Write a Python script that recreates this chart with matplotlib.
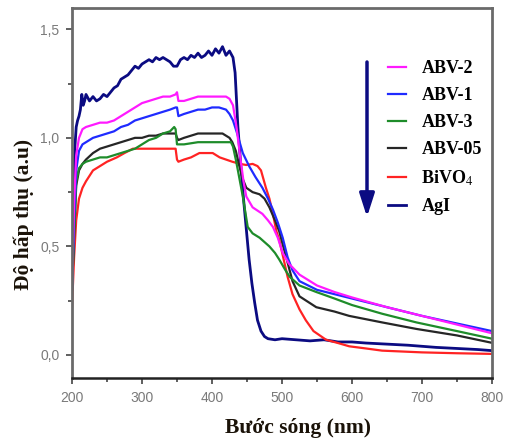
import matplotlib
matplotlib.use("Agg")
import matplotlib.pyplot as plt
from matplotlib.ticker import MultipleLocator, FuncFormatter

# ---------------- data ----------------
agi_x = [200, 202, 204, 206, 208, 210, 212, 214, 216, 218, 220, 225, 230, 235, 240, 245, 250, 255, 260, 265,
         270, 275, 280, 285, 290, 295, 300, 305, 310, 315, 320, 325, 330, 335, 340, 345, 350, 355, 360, 365,
         370, 375, 380, 385, 390, 395, 400, 405, 410, 415, 420, 425, 430, 433, 437, 441, 445, 449, 453, 457,
         461, 465, 470, 475, 480, 490, 500, 520, 540, 560, 580, 600, 620, 650, 680, 700, 720, 750, 780, 800]
agi_y = [0.33, 0.75, 0.95, 1.05, 1.08, 1.10, 1.13, 1.20, 1.15, 1.17, 1.20, 1.17, 1.19, 1.17, 1.18, 1.20, 1.19, 1.21, 1.23, 1.24,
         1.27, 1.28, 1.29, 1.31, 1.33, 1.32, 1.34, 1.35, 1.36, 1.35, 1.37, 1.36, 1.37, 1.36, 1.35, 1.33, 1.33, 1.36, 1.37, 1.36,
         1.38, 1.37, 1.39, 1.37, 1.38, 1.40, 1.38, 1.41, 1.39, 1.42, 1.38, 1.40, 1.37, 1.30, 1.05, 0.88, 0.72, 0.58, 0.44, 0.33,
         0.24, 0.16, 0.11, 0.085, 0.075, 0.07, 0.075, 0.07, 0.065, 0.07, 0.06, 0.06, 0.055, 0.05, 0.045, 0.04, 0.035, 0.03, 0.025, 0.02]

abv2_x = [200, 203, 206, 210, 215, 220, 230, 240, 250, 260, 270, 280, 290, 300, 310, 320, 330, 340, 348, 350,
          352, 360, 370, 380, 390, 400, 410, 420, 425, 430, 435, 440, 445, 449, 458, 465, 472, 480, 487, 494,
          501, 510, 525, 550, 575, 600, 650, 700, 750, 800]
abv2_y = [0.30, 0.70, 0.92, 1.00, 1.04, 1.05, 1.06, 1.07, 1.07, 1.08, 1.10, 1.12, 1.14, 1.16, 1.17, 1.18, 1.19, 1.19, 1.20, 1.21,
          1.17, 1.17, 1.18, 1.19, 1.19, 1.19, 1.19, 1.19, 1.18, 1.15, 1.05, 0.92, 0.80, 0.73, 0.68, 0.665, 0.65, 0.62, 0.59, 0.54,
          0.47, 0.42, 0.37, 0.32, 0.29, 0.265, 0.22, 0.18, 0.14, 0.10]

abv1_x = [200, 203, 206, 210, 215, 220, 230, 240, 250, 260, 270, 280, 290, 300, 310, 320, 330, 340, 348, 350,
          352, 360, 370, 380, 390, 400, 410, 420, 425, 430, 435, 444, 453, 462, 472, 480, 487, 494, 501, 508,
          515, 525, 550, 575, 600, 650, 700, 750, 800]
abv1_y = [0.30, 0.62, 0.85, 0.94, 0.97, 0.98, 1.00, 1.01, 1.02, 1.03, 1.05, 1.06, 1.08, 1.09, 1.10, 1.11, 1.12, 1.13, 1.14, 1.14,
          1.10, 1.11, 1.12, 1.13, 1.13, 1.14, 1.14, 1.13, 1.11, 1.08, 1.03, 0.93, 0.87, 0.82, 0.77, 0.72, 0.67, 0.61, 0.54, 0.45,
          0.39, 0.34, 0.30, 0.28, 0.26, 0.22, 0.18, 0.145, 0.11]

abv3_x = [200, 203, 206, 210, 215, 220, 230, 240, 250, 260, 270, 280, 290, 300, 310, 320, 330, 340, 346, 348,
          350, 360, 370, 380, 390, 400, 410, 420, 427, 430, 434, 437, 444, 451, 458, 468, 475, 482, 490, 496,
          505, 511, 525, 549, 575, 600, 643, 692, 750, 800]
abv3_y = [0.30, 0.55, 0.80, 0.86, 0.88, 0.89, 0.90, 0.91, 0.91, 0.92, 0.93, 0.94, 0.95, 0.97, 0.99, 1.00, 1.02, 1.03, 1.05, 1.04,
          0.97, 0.97, 0.975, 0.98, 0.98, 0.98, 0.98, 0.98, 0.98, 0.96, 0.90, 0.85, 0.73, 0.59, 0.56, 0.54, 0.52, 0.50, 0.47, 0.44,
          0.39, 0.36, 0.32, 0.29, 0.26, 0.23, 0.19, 0.15, 0.11, 0.075]

abv05_x = [200, 203, 206, 210, 215, 220, 230, 240, 250, 260, 270, 280, 290, 300, 310, 320, 330, 340, 348, 350,
           352, 360, 370, 380, 390, 400, 410, 415, 420, 425, 429, 434, 439, 444, 449, 458, 468, 475, 482, 490,
           496, 506, 515, 525, 549, 575, 596, 643, 692, 750, 800]
abv05_y = [0.30, 0.55, 0.78, 0.85, 0.88, 0.90, 0.93, 0.95, 0.96, 0.97, 0.98, 0.99, 1.00, 1.00, 1.01, 1.01, 1.02, 1.02, 1.02, 1.00,
           0.99, 1.00, 1.01, 1.02, 1.02, 1.02, 1.02, 1.02, 1.01, 1.00, 0.98, 0.94, 0.87, 0.81, 0.77, 0.75, 0.74, 0.72, 0.68, 0.62,
           0.57, 0.45, 0.34, 0.27, 0.22, 0.20, 0.18, 0.15, 0.12, 0.09, 0.056]

bivo4_x = [200, 203, 206, 210, 215, 220, 230, 240, 250, 264, 275, 287, 300, 320, 340, 348, 350, 352, 360, 370,
           382, 395, 401, 411, 420, 429, 440, 449, 458, 465, 470, 477, 482, 487, 492, 496, 501, 508, 515, 525,
           534, 545, 563, 580, 596, 620, 643, 700, 750, 800]
bivo4_y = [0.22, 0.45, 0.62, 0.72, 0.77, 0.80, 0.85, 0.87, 0.89, 0.91, 0.93, 0.95, 0.95, 0.95, 0.95, 0.95, 0.90, 0.89, 0.90, 0.91,
           0.93, 0.93, 0.93, 0.91, 0.90, 0.89, 0.88, 0.875, 0.88, 0.87, 0.85, 0.77, 0.72, 0.65, 0.57, 0.53, 0.46, 0.36, 0.28, 0.21,
           0.16, 0.11, 0.07, 0.055, 0.04, 0.03, 0.02, 0.012, 0.008, 0.005]

series_labels = ["ABV-2", "ABV-1", "ABV-3", "ABV-05", "BiVO$_4$", "AgI"]
series_colors = ["#ff1aff", "#1f2bff", "#1e8c2a", "#262626", "#ff2323", "#0b0b82"]

x_ticks = [200, 300, 400, 500, 600, 700, 800]
y_ticks = [0.0, 0.5, 1.0, 1.5]
x_label = "Bước sóng (nm)"
y_label = "Độ hấp thụ (a.u)"

# ---------------- figure ----------------
W, H = 508, 444
fig = plt.figure(figsize=(W / 100, H / 100), dpi=100)
ax = fig.add_axes([72 / W, 1 - 378 / H, (492 - 72) / W, (378 - 8) / H])

xs = [abv2_x, abv1_x, abv3_x, abv05_x, bivo4_x, agi_x]
ys = [abv2_y, abv1_y, abv3_y, abv05_y, bivo4_y, agi_y]
widths = [1.6, 1.6, 1.6, 1.6, 1.6, 2.0]
order = [5, 4, 3, 2, 1, 0]
handles = {}
for i in order:
    ln, = ax.plot(xs[i], ys[i], color=series_colors[i], lw=widths[i],
                  label=series_labels[i], solid_joinstyle="round")
    handles[i] = ln

ax.set_xlim(200, 800)
ax.set_ylim(-0.106, 1.598)
ax.set_xticks(x_ticks)
ax.set_yticks(y_ticks)
ax.xaxis.set_minor_locator(MultipleLocator(50))
ax.yaxis.set_minor_locator(MultipleLocator(0.25))
ax.yaxis.set_major_formatter(FuncFormatter(lambda v, p: f"{v:.1f}".replace(".", ",")))

for lab in ax.get_xticklabels() + ax.get_yticklabels():
    lab.set_fontfamily(["Liberation Sans", "DejaVu Sans"])
    lab.set_fontsize(10)
ax.tick_params(which="both", direction="out", colors="#444444", labelcolor="#7a7a7a", width=1.2)
ax.tick_params(which="major", length=4, pad=5)
ax.tick_params(which="minor", length=3)

for side in ["top", "right", "left"]:
    ax.spines[side].set_color("#6a6a6a")
    ax.spines[side].set_linewidth(2.0)
ax.spines["bottom"].set_color("#222222")
ax.spines["bottom"].set_linewidth(1.8)

serif = ["Liberation Serif", "DejaVu Serif"]
ax.set_xlabel(x_label, fontfamily=serif, fontweight="bold", fontsize=15.5, color="#1a1208")
ax.xaxis.set_label_coords((298 - 72) / 420, (378 - 418) / 370)
ax.set_ylabel(y_label, fontfamily=serif, fontweight="bold", fontsize=15.5, color="#1a1208")
ax.yaxis.set_label_coords((34 - 72) / 420, 1 - (214 - 8) / 370)

plt.rcParams["mathtext.fontset"] = "stix"
leg = ax.legend([handles[i] for i in range(6)], series_labels, loc="upper left",
                bbox_to_anchor=((388 - 72) / 420, 1 - (60 - 8) / 370), frameon=False,
                prop=dict(family=serif, weight="bold", size=13),
                handlelength=1.0, handletextpad=0.85, labelspacing=0.56,
                borderpad=0, borderaxespad=0)

ax.annotate("", xy=((367 - 72) / 420, 1 - (217 - 8) / 370),
            xytext=((367 - 72) / 420, 1 - (62 - 8) / 370),
            xycoords="axes fraction", textcoords="axes fraction",
            arrowprops=dict(arrowstyle="-|>,head_length=1.4,head_width=0.45",
                            color="#0b0b82", lw=2.5, shrinkA=0, shrinkB=0))

fig.savefig("out.png", dpi=100)
